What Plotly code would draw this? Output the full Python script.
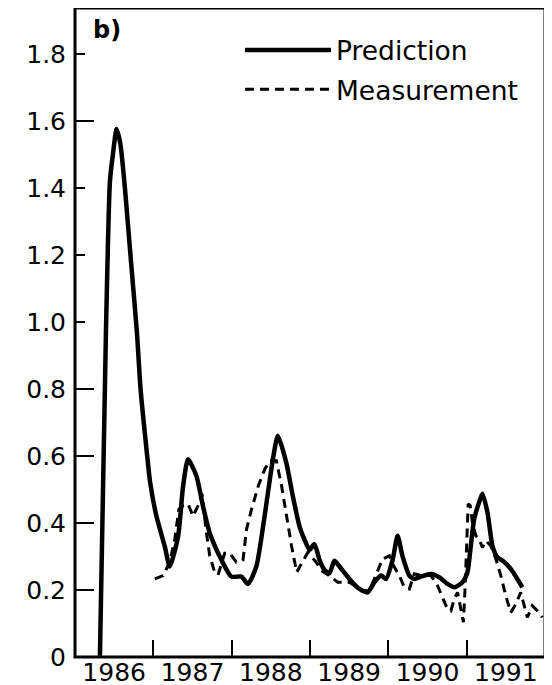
import plotly.graph_objects as go

# ---- data ----
pred_year = [1986.318, 1986.395, 1986.446, 1986.484, 1986.531, 1986.580, 1986.637, 1986.715,
             1986.790, 1986.837, 1986.904, 1986.960, 1987.040, 1987.146, 1987.210, 1987.316,
             1987.380, 1987.443, 1987.550, 1987.634, 1987.720, 1987.869, 1987.996, 1988.124,
             1988.208, 1988.315, 1988.420, 1988.526, 1988.590, 1988.697, 1988.781, 1988.866,
             1988.930, 1988.994, 1989.057, 1989.121, 1989.185, 1989.248, 1989.312, 1989.376,
             1989.503, 1989.631, 1989.736, 1989.822, 1989.907, 1989.971, 1990.055, 1990.118,
             1990.182, 1990.268, 1990.331, 1990.417, 1990.544, 1990.650, 1990.755, 1990.841,
             1990.946, 1991.010, 1991.053, 1991.096, 1991.159, 1991.201, 1991.265, 1991.329,
             1991.392, 1991.456, 1991.563, 1991.711]
pred_value = [0.00, 0.97, 1.42, 1.50, 1.576, 1.53, 1.40, 1.18,
              0.97, 0.80, 0.64, 0.52, 0.42, 0.33, 0.27, 0.36,
              0.51, 0.59, 0.54, 0.45, 0.37, 0.29, 0.24, 0.24,
              0.218, 0.27, 0.42, 0.59, 0.66, 0.58, 0.48, 0.39,
              0.35, 0.32, 0.337, 0.29, 0.26, 0.25, 0.287, 0.27,
              0.233, 0.203, 0.193, 0.223, 0.243, 0.233, 0.29, 0.362,
              0.30, 0.243, 0.233, 0.24, 0.248, 0.238, 0.218, 0.208,
              0.223, 0.253, 0.332, 0.412, 0.462, 0.487, 0.432, 0.332,
              0.298, 0.288, 0.263, 0.208]

meas_year = [1987.019, 1987.125, 1987.210, 1987.274, 1987.325, 1987.380, 1987.443, 1987.507,
             1987.571, 1987.622, 1987.677, 1987.720, 1987.783, 1987.826, 1987.911, 1987.975,
             1988.060, 1988.145, 1988.190, 1988.255, 1988.340, 1988.424, 1988.487, 1988.570,
             1988.637, 1988.700, 1988.764, 1988.830, 1988.972, 1989.079, 1989.143, 1989.248,
             1989.354, 1989.503, 1989.672, 1989.758, 1989.843, 1989.928, 1990.013, 1990.055,
             1990.140, 1990.204, 1990.268, 1990.331, 1990.417, 1990.544, 1990.628, 1990.692,
             1990.755, 1990.799, 1990.841, 1990.883, 1990.926, 1990.959, 1990.981, 1991.003,
             1991.019, 1991.045, 1991.074, 1991.117, 1991.159, 1991.201, 1991.245, 1991.308,
             1991.372, 1991.436, 1991.499, 1991.563, 1991.627, 1991.690, 1991.732, 1991.775,
             1991.838, 1991.902, 1991.966]
meas_value = [0.233, 0.243, 0.283, 0.352, 0.44, 0.452, 0.457, 0.42,
              0.452, 0.487, 0.372, 0.302, 0.253, 0.245, 0.31, 0.31,
              0.283, 0.29, 0.382, 0.442, 0.511, 0.561, 0.586, 0.586,
              0.511, 0.422, 0.332, 0.253, 0.312, 0.283, 0.258, 0.243,
              0.223, 0.223, 0.198, 0.198, 0.243, 0.293, 0.302, 0.278,
              0.243, 0.208, 0.203, 0.248, 0.243, 0.243, 0.213, 0.178,
              0.143, 0.138, 0.173, 0.193, 0.143, 0.104, 0.213, 0.332,
              0.457, 0.452, 0.40, 0.362, 0.352, 0.327, 0.347, 0.332,
              0.293, 0.243, 0.183, 0.133, 0.158, 0.193, 0.158, 0.118,
              0.153, 0.138, 0.118]

year_label_pos = [1986.5, 1987.5, 1988.5, 1989.5, 1990.5, 1991.5]
year_labels = ["1986", "1987", "1988", "1989", "1990", "1991"]
year_bounds = [1987, 1988, 1989, 1990, 1991]
y_ticks = [0, 0.2, 0.4, 0.6, 0.8, 1.0, 1.2, 1.4, 1.6, 1.8]
y_tick_text = ["0", "0.2", "0.4", "0.6", "0.8", "1.0", "1.2", "1.4", "1.6", "1.8"]
y_long_ticks = [0.2, 0.4, 0.6, 0.8, 1.6]

FONT = "DejaVu Sans"
X_RANGE = [1986, 1992]
Y_RANGE = [0, 1.937]

fig = go.Figure()
fig.add_trace(go.Scatter(
    x=pred_year, y=pred_value, mode="lines", name="Prediction", legendgroup="p",
    line=dict(color="black", width=4.5, shape="spline", smoothing=0.6),
))
fig.add_trace(go.Scatter(
    x=meas_year, y=meas_value, mode="lines", name="Measurement", legendgroup="m",
    yaxis="y2",
    line=dict(color="black", width=3, dash="9px,6px"),
))

# the page body has an 8px default margin, so the figure is sized to fit inside the window
fig.update_layout(
    width=544, height=677,
    margin=dict(l=67, r=7, t=0, b=28, autoexpand=False),
    paper_bgcolor="white", plot_bgcolor="white",
    font=dict(family=FONT, size=25, color="black"),
    showlegend=True,
    legend=dict(x=0.351, y=0.972, xanchor="left", yanchor="top",
                bgcolor="rgba(0,0,0,0)", font=dict(size=26.5), itemwidth=86,
                traceorder="grouped", tracegroupgap=2),
    xaxis=dict(
        range=X_RANGE, showgrid=False, zeroline=False, automargin=False,
        showline=False,
        tickmode="array", tickvals=year_label_pos, ticktext=year_labels,
        ticks="", ticklen=0, ticklabelstandoff=-2,
        minor=dict(tickmode="array", tickvals=year_bounds, ticks="inside",
                   ticklen=17, tickwidth=2, tickcolor="black", showgrid=False),
    ),
    yaxis=dict(
        range=Y_RANGE, showgrid=False, zeroline=False, automargin=False,
        showline=False,
        tickmode="array", tickvals=y_ticks, ticktext=y_tick_text,
        ticks="inside", ticklen=10, tickwidth=2, tickcolor="black",
        ticklabelstandoff=8,
    ),
    yaxis2=dict(
        range=Y_RANGE, overlaying="y", side="left", showgrid=False, automargin=False,
        zeroline=False, showline=False, showticklabels=False,
        tickmode="array", tickvals=y_long_ticks,
        ticks="inside", ticklen=19, tickwidth=2, tickcolor="black",
    ),
    annotations=[dict(text="<b>b)</b>", xref="paper", yref="paper",
                      x=0.034, y=0.99, xanchor="left", yanchor="top",
                      showarrow=False, font=dict(size=24, family=FONT))],
    shapes=[dict(type="rect", xref="paper", yref="paper", x0=0, x1=1, y0=0, y1=1,
                 line=dict(color="black", width=3), layer="above")],
)

fig.write_html("out.html")
